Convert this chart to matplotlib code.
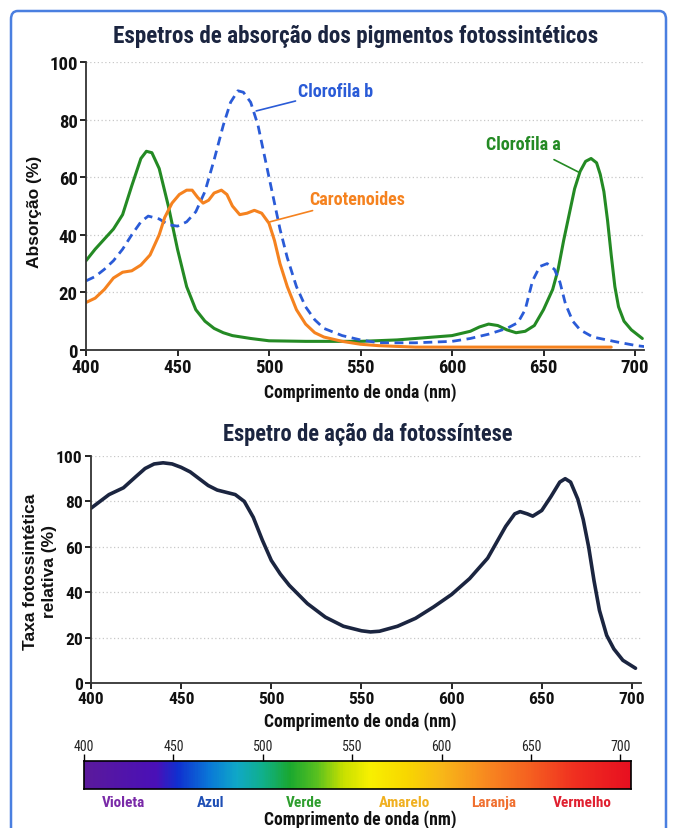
import numpy as np
import matplotlib
matplotlib.use("Agg")
import matplotlib.pyplot as plt
from matplotlib.colors import LinearSegmentedColormap
from matplotlib.patches import FancyBboxPatch

# fontes
COND = ['Roboto Condensed', 'PT Sans Narrow', 'DejaVu Sans']
WIDE = ['Liberation Sans', 'DejaVu Sans']

# --- dados ---
# clorofila a
cla_nm = [400, 405, 410, 415, 420, 425, 430, 433, 436, 440, 445, 450, 455, 460, 465, 470, 475, 480,
          490, 500, 520, 550, 570, 590, 600, 610, 615, 620, 625, 630, 635, 640, 645, 650, 655, 658,
          661, 664, 667, 670, 673, 676, 679, 681, 683, 685, 687, 689, 691, 694, 698, 704]
cla_abs = [31, 35, 38.5, 42, 47, 57, 66.5, 69, 68.5, 63, 50, 35, 22, 14, 10, 7.5, 6, 5,
           4, 3.2, 3, 3, 3.5, 4.5, 5, 6.5, 8, 9, 8.5, 7, 6, 6.5, 8.5, 14, 21, 28,
           38, 47, 56, 62, 65.5, 66.5, 65, 61, 55, 45, 33, 22, 15, 10, 7, 4]

# clorofila b
clb_nm = [400, 405, 410, 415, 420, 425, 430, 434, 440, 445, 450, 455, 460, 465, 470, 475, 479, 483,
          486, 490, 494, 498, 502, 506, 510, 515, 520, 525, 530, 540, 550, 560, 580, 600, 610, 620,
          630, 636, 640, 642, 644, 648, 652, 656, 659, 662, 666, 670, 677, 690, 701, 705]
clb_abs = [24, 25.5, 28, 31, 35, 40, 44.5, 46.5, 45.5, 43.5, 43, 44.5, 48, 55, 66, 78, 86, 90,
           89.5, 86, 78, 66, 54, 42, 32, 22, 15, 10.5, 7.5, 5, 3.5, 2.5, 2.5, 3, 4, 5.5,
           7.5, 9.5, 14, 19, 24, 29, 30, 28, 23.5, 16, 10, 7, 4.5, 2.8, 1.5, 1.2]

# carotenoides
car_nm = [400, 405, 410, 415, 420, 425, 430, 435, 440, 443, 447, 451, 455, 458, 461, 464, 467, 470,
          474, 477, 480, 484, 488, 492, 496, 500, 503, 506, 510, 515, 520, 525, 530, 540, 550, 560,
          580, 620, 660, 687]
car_abs = [16.5, 18, 21, 25, 27, 27.5, 29.5, 33, 40, 46, 51, 54, 55.5, 55.5, 53, 51, 52, 54.5,
           55.5, 54, 50, 47, 47.5, 48.5, 47.5, 44, 38, 30, 22, 14, 9, 6, 4.5, 3, 2, 1.5,
           1, 1, 1, 1]

# espetro de ação
acao_nm = [400, 405, 410, 418, 425, 430, 435, 440, 445, 450, 455, 460, 465, 470, 475, 480, 485, 490,
           495, 500, 505, 510, 520, 530, 540, 550, 555, 560, 570, 580, 590, 600, 610, 620, 625, 630,
           635, 638, 642, 645, 650, 655, 660, 663, 666, 670, 673, 676, 679, 682, 686, 690, 695, 702]
acao_taxa = [77, 80, 83, 86, 91, 94.5, 96.5, 97, 96.5, 95, 93, 90, 87, 85, 84, 83, 80, 73,
             63, 54, 48, 43, 35, 29, 25, 23, 22.5, 22.8, 25, 28.5, 33.5, 39, 46, 55, 62, 69,
             74.5, 75.5, 74.5, 73.5, 76, 82, 88.5, 90, 88.5, 81, 72, 60, 45, 32, 21, 15, 10, 6.5]

ticks_nm = [400, 450, 500, 550, 600, 650, 700]
yticks = [0, 20, 40, 60, 80, 100]

# cores do espetro visível
esp_nm = [400, 440, 452, 470, 485, 500, 515, 530, 545, 560, 580, 600, 625, 650, 675, 706]
esp_cor = ['#5b1a9c', '#4a10b8', '#1030d0', '#0a7ad8', '#10a8c8', '#10b08a', '#1aa830', '#58c020',
           '#c8e000', '#f8f000', '#f8d800', '#f8b818', '#f88a20', '#f56020', '#f03020', '#e81020']
nomes_cor = ['Violeta', 'Azul', 'Verde', 'Amarelo', 'Laranja', 'Vermelho']
nomes_nm = [422, 471, 523, 579, 629, 679]
nomes_rgb = ['#7a2aa8', '#1f4fb5', '#2e9e2e', '#f0b020', '#f07030', '#e02030']

VERDE = '#248a24'
AZUL = '#2a5bd7'
LARANJA = '#f5821f'
NAVY = '#1b2540'

fig = plt.figure(figsize=(6.75, 8.29), dpi=100)


def estilo(ax, tam):
    ax.set_xlim(400, 705)
    ax.set_ylim(0, 100)
    ax.set_xticks(ticks_nm)
    ax.set_yticks(yticks)
    for s in ['top', 'right']:
        ax.spines[s].set_visible(False)
    for s in ['left', 'bottom']:
        ax.spines[s].set_linewidth(1.3)
        ax.spines[s].set_color('#333333')
    ax.grid(axis='y', linestyle=(0, (1, 2)), color='#c8c8c8', linewidth=0.9)
    ax.tick_params(length=4, width=1.2, labelsize=tam, pad=2, labelcolor='#111111')
    for lab in ax.get_xticklabels() + ax.get_yticklabels():
        lab.set_family(COND)
        lab.set_fontweight('bold')


# --- espetros de absorção ---
ax1 = fig.add_axes([86 / 675, 1 - 351 / 829, 305 * 1.83 / 675, 288 / 829])
estilo(ax1, 13.5)
ax1.plot(cla_nm, cla_abs, color=VERDE, lw=2.2, solid_capstyle='round')
ax1.plot(clb_nm, clb_abs, color=AZUL, lw=2.0, linestyle=(0, (3.2, 2)))
ax1.plot(car_nm, car_abs, color=LARANJA, lw=2.2, solid_capstyle='round')

ax1.annotate('Clorofila b', xy=(493, 83), xytext=(516, 90), color=AZUL, fontsize=13,
             fontweight='bold', family=COND, va='center',
             arrowprops=dict(arrowstyle='-', color=AZUL, lw=1.2, shrinkA=0, shrinkB=0))
ax1.annotate('Carotenoides', xy=(500.5, 44.5), xytext=(522, 52.5), color=LARANJA, fontsize=13,
             fontweight='bold', family=COND, va='center',
             arrowprops=dict(arrowstyle='-', color=LARANJA, lw=1.2, shrinkA=0, shrinkB=0))
ax1.annotate('Clorofila a', xy=(670, 61.5), xytext=(639, 71.5), color=VERDE, fontsize=13,
             fontweight='bold', family=COND, va='center', ha='center',
             arrowprops=dict(arrowstyle='-', color=VERDE, lw=1.2, shrinkA=6, shrinkB=0))

fig.text(356 / 675, 1 - 37 / 829, 'Espetros de absorção dos pigmentos fotossintéticos',
         ha='center', va='center', fontsize=16.7, fontweight='bold', family=COND, color=NAVY)
fig.text(360 / 675, 1 - 393 / 829, 'Comprimento de onda (nm)', ha='center', va='center',
         fontsize=12.7, fontweight='bold', family=COND, color='#111111')
fig.text(35 / 675, 1 - 212 / 829, 'Absorção (%)', ha='center', va='center', rotation=90,
         fontsize=12.5, fontweight='bold', family=WIDE, color='#111111')

# --- espetro de ação ---
ax2 = fig.add_axes([91 / 675, 1 - 684 / 829, 305 * 1.803 / 675, 227 / 829])
estilo(ax2, 12.5)
ax2.plot(acao_nm, acao_taxa, color=NAVY, lw=2.6, solid_capstyle='round')

fig.text(368 / 675, 1 - 435 / 829, 'Espetro de ação da fotossíntese', ha='center', va='center',
         fontsize=16.3, fontweight='bold', family=COND, color=NAVY)
fig.text(360 / 675, 1 - 722 / 829, 'Comprimento de onda (nm)', ha='center', va='center',
         fontsize=12.7, fontweight='bold', family=COND, color='#111111')
fig.text(40 / 675, 1 - 572 / 829, 'Taxa fotossintética\nrelativa (%)', ha='center', va='center',
         rotation=90, fontsize=12.5, fontweight='bold', family=WIDE, color='#111111',
         linespacing=1.4)

# --- barra do espetro visível ---
ax3 = fig.add_axes([84 / 675, 1 - 790 / 829, 547 / 675, 28 / 829])
cmap = LinearSegmentedColormap.from_list(
    'espetro', [((n - 400) / 306, c) for n, c in zip(esp_nm, esp_cor)])
ax3.imshow(np.linspace(0, 1, 600)[None, :], aspect='auto', cmap=cmap,
           extent=[400, 706, 0, 1])
ax3.set_xlim(400, 706)
ax3.set_yticks([])
ax3.set_xticks(ticks_nm)
ax3.xaxis.tick_top()
ax3.tick_params(axis='x', length=5, width=1, labelsize=10, pad=1, labelcolor='#222222')
for lab in ax3.get_xticklabels():
    lab.set_family(COND)
for s in ax3.spines.values():
    s.set_linewidth(1.2)

for nome, n, c in zip(nomes_cor, nomes_nm, nomes_rgb):
    ax3.text(n, -0.45, nome, ha='center', va='center', color=c, fontsize=11,
             fontweight='bold', family=COND)
fig.text(360 / 675, 1 - 820 / 829, 'Comprimento de onda (nm)', ha='center', va='center',
         fontsize=12.7, fontweight='bold', family=COND, color='#111111')

# moldura azul
moldura = FancyBboxPatch((11 / 675, -0.05), 655 / 675, 1.05 - 12 / 829,
                         boxstyle='round,pad=0,rounding_size=0.01',
                         transform=fig.transFigure, fill=False, edgecolor='#4a7fe0', lw=1.8)
fig.patches.append(moldura)

fig.savefig('out.png', dpi=100)
